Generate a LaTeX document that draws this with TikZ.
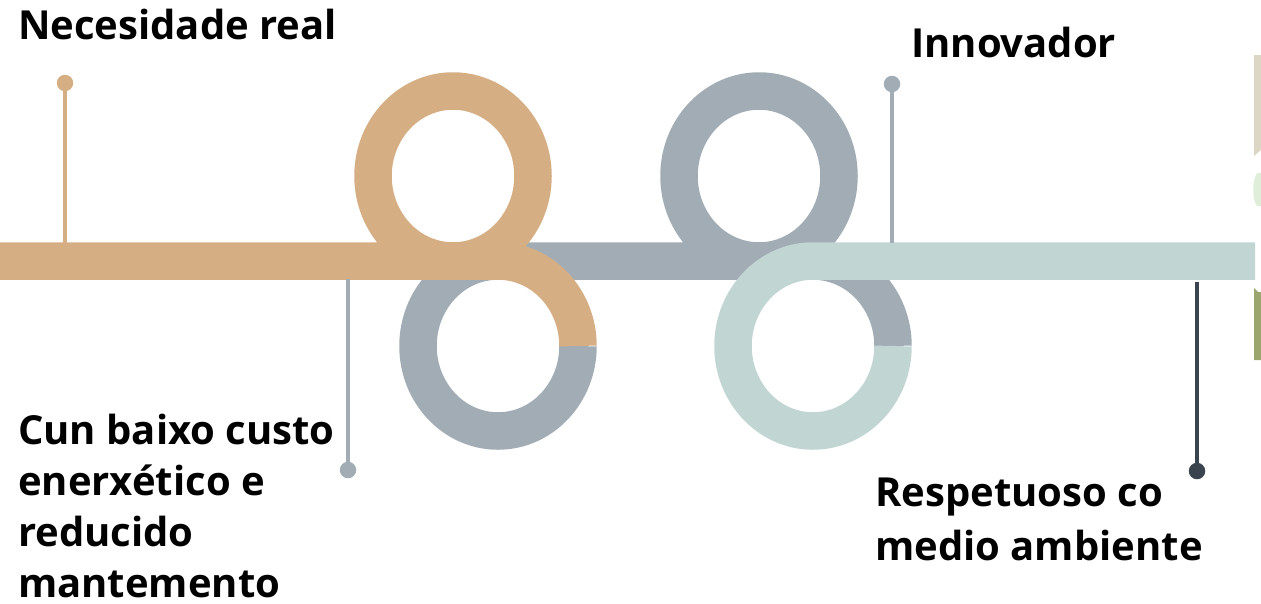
\documentclass[tikz,border=0pt]{standalone}
\usepackage{fontspec}
\setmainfont{Open Sans}
\definecolor{tan}{RGB}{214,174,131}
\definecolor{slate}{RGB}{162,172,181}
\definecolor{mist}{RGB}{193,213,211}
\definecolor{darkpin}{RGB}{58,68,78}
\definecolor{beige}{RGB}{220,214,196}
\definecolor{palegreen}{RGB}{223,238,216}
\definecolor{olive}{RGB}{154,166,110}
\begin{document}
\begin{tikzpicture}[x=1pt,y=-1pt,
  ribbon/.style={line width=37.5pt,line cap=butt,line join=round},
  pinline/.style={line width=3.5pt},
  pindot/.style={circle,inner sep=0pt,minimum size=16.5pt,fill=#1},
  label/.style={anchor=base west,inner sep=0pt,align=left,font=\fontsize{40}{50.7}\selectfont\bfseries},
  ring/.style={x radius=80,y radius=85}]
\useasboundingbox (0,0) rectangle (1261,603);
% right edge slivers
\fill[beige] (1254,55) -- (1261,55) -- (1261,150) -- (1254,156) -- cycle;
\fill[palegreen] (1257,173) .. controls (1252,180) and (1252,200) .. (1257,206) -- (1261,206) -- (1261,173) -- cycle;
\fill[olive] (1254,288) -- (1258,292) -- (1261,292) -- (1261,360) -- (1254,360) -- cycle;
% ribbons
\draw[ribbon,slate] (578,346) arc[start angle=0,end angle=270,ring] -- (759,261)
  arc[start angle=90,end angle=-270,ring] -- (813,261) arc[start angle=-90,end angle=0,ring];
\draw[ribbon,tan] (0,261) -- (453,261) arc[start angle=90,end angle=-270,ring] -- (498,261)
  arc[start angle=-90,end angle=0,ring];
\draw[ribbon,mist] (893,346) arc[start angle=0,end angle=270,ring] -- (1255,261);
% pins
\node[pindot=tan] (p1) at (65,83) {};
\coordinate (b1) at (65,243);
\draw[pinline,tan] (p1.center) -- (b1);
\node[pindot=slate] (p2) at (348,470) {};
\coordinate (b2) at (348,279);
\draw[pinline,slate] (p2.center) -- (b2);
\node[pindot=slate] (p3) at (892,84) {};
\coordinate (b3) at (892,243);
\draw[pinline,slate] (p3.center) -- (b3);
\node[pindot=darkpin] (p4) at (1197,471) {};
\coordinate (b4) at (1197,282);
\draw[pinline,darkpin] (p4.center) -- (b4);
% labels (base anchor = baseline of the last line)
\node[label] (t1) at (18,39) {Necesidade real};
\node[label] (t2) at (911,57) {Innovador};
\node[label] (t3) at (18,597) {Cun baixo custo\\enerxético e\\reducido\\mantemento};
\node[label,font=\fontsize{40}{54}\selectfont\bfseries] (t4) at (875,560) {Respetuoso co\\medio ambiente};
\end{tikzpicture}
\end{document}
